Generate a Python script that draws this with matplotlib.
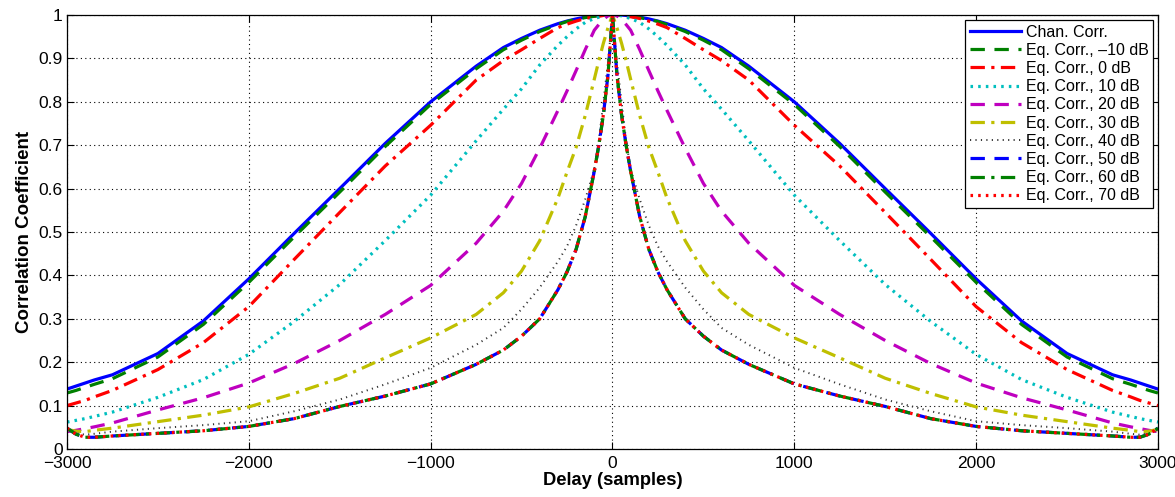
import numpy as np
import matplotlib.pyplot as plt

plt.rcParams['font.family'] = ['Liberation Sans', 'DejaVu Sans']

# delay grid for the positive half (samples); curves are symmetric about zero
delay = [0, 25, 50, 75, 100, 150, 200, 250, 300, 400, 500, 600, 750, 1000,
         1250, 1500, 1750, 2000, 2250, 2500, 2750, 2850, 2900, 2950, 3000]

chan_corr = [1.0, 1.0, 1.0, 0.999, 0.998, 0.995, 0.991, 0.986, 0.98, 0.965, 0.946, 0.925, 0.882, 0.80,
             0.704, 0.60, 0.497, 0.392, 0.295, 0.22, 0.171, 0.159, 0.152, 0.145, 0.138]
eq_m10 = [1.0, 1.0, 0.999, 0.998, 0.997, 0.994, 0.99, 0.985, 0.978, 0.962, 0.942, 0.92, 0.876, 0.794,
          0.697, 0.592, 0.489, 0.384, 0.287, 0.212, 0.162, 0.149, 0.142, 0.135, 0.129]
eq_0 = [1.0, 1.0, 0.999, 0.997, 0.996, 0.992, 0.986, 0.979, 0.971, 0.946, 0.92, 0.895, 0.85, 0.746,
        0.652, 0.545, 0.437, 0.328, 0.245, 0.183, 0.135, 0.12, 0.112, 0.106, 0.10]
eq_10 = [1.0, 1.0, 0.998, 0.995, 0.992, 0.983, 0.968, 0.95, 0.93, 0.885, 0.83, 0.783, 0.71, 0.585,
         0.48, 0.379, 0.294, 0.218, 0.16, 0.119, 0.085, 0.075, 0.07, 0.066, 0.062]
eq_20 = [1.0, 0.998, 0.99, 0.978, 0.965, 0.92, 0.872, 0.825, 0.78, 0.693, 0.612, 0.548, 0.474, 0.377,
         0.31, 0.25, 0.197, 0.152, 0.118, 0.09, 0.06, 0.051, 0.047, 0.043, 0.04]
eq_30 = [1.0, 0.97, 0.935, 0.895, 0.852, 0.768, 0.695, 0.638, 0.578, 0.48, 0.41, 0.36, 0.31, 0.256,
         0.21, 0.163, 0.128, 0.097, 0.078, 0.063, 0.048, 0.043, 0.04, 0.041, 0.045]
eq_40 = [1.0, 0.89, 0.80, 0.71, 0.645, 0.575, 0.515, 0.467, 0.432, 0.372, 0.322, 0.279, 0.24, 0.187,
         0.149, 0.114, 0.087, 0.064, 0.055, 0.048, 0.04, 0.035, 0.033, 0.036, 0.043]
eq_50 = [1.0, 0.86, 0.77, 0.70, 0.64, 0.535, 0.46, 0.408, 0.367, 0.30, 0.26, 0.228, 0.195, 0.15,
         0.122, 0.098, 0.07, 0.052, 0.042, 0.036, 0.03, 0.027, 0.027, 0.034, 0.048]
eq_60 = [1.0, 0.86, 0.77, 0.70, 0.64, 0.535, 0.46, 0.408, 0.367, 0.30, 0.26, 0.228, 0.195, 0.15,
         0.122, 0.098, 0.07, 0.052, 0.042, 0.036, 0.03, 0.027, 0.027, 0.034, 0.048]
eq_70 = [1.0, 0.86, 0.77, 0.70, 0.64, 0.535, 0.46, 0.408, 0.367, 0.30, 0.26, 0.228, 0.195, 0.15,
         0.122, 0.098, 0.07, 0.052, 0.042, 0.036, 0.03, 0.027, 0.027, 0.034, 0.048]

labels = ['Chan. Corr.', 'Eq. Corr., \u201310 dB', 'Eq. Corr., 0 dB', 'Eq. Corr., 10 dB',
          'Eq. Corr., 20 dB', 'Eq. Corr., 30 dB', 'Eq. Corr., 40 dB', 'Eq. Corr., 50 dB',
          'Eq. Corr., 60 dB', 'Eq. Corr., 70 dB']


def mirror(half):
    half = np.asarray(half, dtype=float)
    return np.concatenate([half[:0:-1], half])


x = np.concatenate([-np.asarray(delay[:0:-1], dtype=float), np.asarray(delay, dtype=float)])

# MATLAB-ish line specs: colour, dash pattern
b = (0, 0, 1)
g = (0, 0.5, 0)
r = (1, 0, 0)
c = (0, 0.75, 0.75)
m = (0.75, 0, 0.75)
y = (0.75, 0.75, 0)
k = (0.2, 0.2, 0.2)
dash = (0, (4.5, 3))
dashdot = (0, (4.5, 2, 1, 2))
dot = (0, (0.8, 1.6))

series = [
    (chan_corr, b, '-'),
    (eq_m10, g, dash),
    (eq_0, r, dashdot),
    (eq_10, c, dot),
    (eq_20, m, dash),
    (eq_30, y, dashdot),
    (eq_40, k, (0, (0.6, 2.2))),
    (eq_50, b, dash),
    (eq_60, g, dashdot),
    (eq_70, r, dot),
]

fig = plt.figure(figsize=(11.75, 4.97), dpi=100)
ax = fig.add_axes([0.057, 0.0966, 0.9285, 0.8732])

for (vals, col, ls), lab in zip(series, labels):
    lw = 1.4 if col == k else 2.3
    ax.plot(x, mirror(vals), color=col, linestyle=ls, linewidth=lw, label=lab)

ax.set_xlim(-3000, 3000)
ax.set_ylim(0, 1)
ax.set_xticks(np.arange(-3000, 3001, 1000))
ax.set_yticks(np.arange(0, 1.01, 0.1))
ax.set_yticklabels(['0', '0.1', '0.2', '0.3', '0.4', '0.5', '0.6', '0.7', '0.8', '0.9', '1'])
ax.tick_params(direction='in', top=True, right=True, labelsize=12.5, length=5, width=0.8)
ax.tick_params(axis='x', pad=5)
ax.tick_params(axis='y', pad=3)
ax.grid(True, color='black', linestyle=(0, (1, 3)), linewidth=0.8)
for s in ax.spines.values():
    s.set_linewidth(0.9)

ax.set_xlabel('Delay (samples)', fontsize=13.2, fontweight='bold', labelpad=1)
ax.set_ylabel('Correlation Coefficient', fontsize=13.5, fontweight='bold', labelpad=4)

leg = ax.legend(loc='upper right', fontsize=11.5, handlelength=3.2, handletextpad=0.3,
                labelspacing=0.2, borderaxespad=0.3, borderpad=0.3, fancybox=False,
                framealpha=1, edgecolor='black')
leg.get_frame().set_linewidth(0.9)

fig.savefig('out.png', dpi=100)
